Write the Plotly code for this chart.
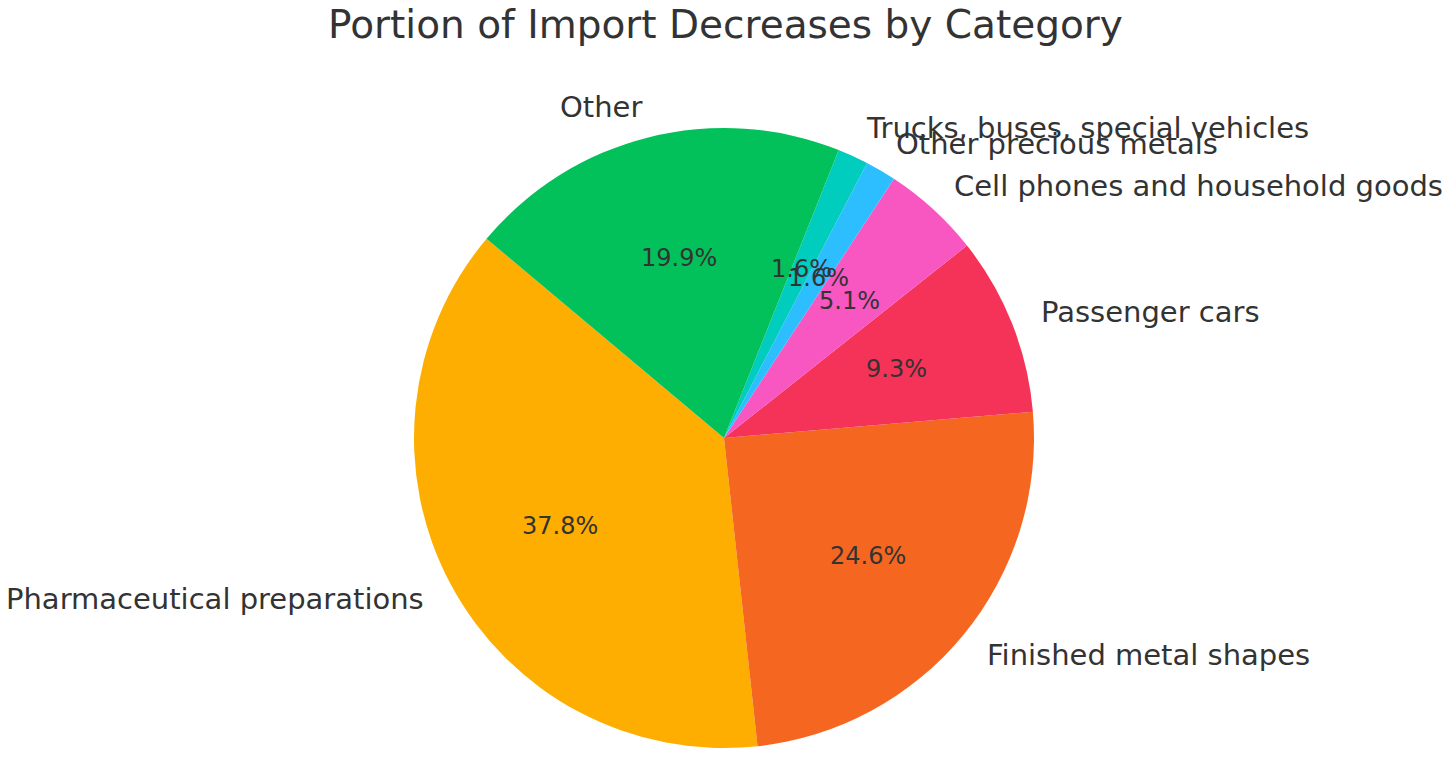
import math
import plotly.graph_objects as go

categories = ["Pharmaceutical preparations", "Finished metal shapes", "Passenger cars",
              "Cell phones and household goods", "Other precious metals",
              "Trucks, buses, special vehicles", "Other"]
values = [37.8, 24.6, 9.3, 5.1, 1.6, 1.6, 19.9]
colors = ["#FDAE00", "#F56720", "#F53257", "#F857C2", "#2DBEFF", "#00CDBE", "#02C15A"]

W, H = 1451, 783
cx, cy, R = 724, 438, 310          # pie center / radius in pixels
start_angle = 140.0                # degrees, counter-clockwise from 3 o'clock
TXT = "#333333"
FONT = "DejaVu Sans"

total = sum(values)
first_span = values[0] / total * 360.0

fig = go.Figure()
fig.add_trace(go.Pie(
    labels=categories, values=values, sort=False, direction="counterclockwise",
    rotation=90 - (start_angle + first_span),
    marker=dict(colors=colors, line=dict(width=0)),
    textinfo="none", hoverinfo="label+percent", showlegend=False,
    domain=dict(x=[(cx - R) / W, (cx + R) / W], y=[1 - (cy + R) / H, 1 - (cy - R) / H]),
))

ann = []
acc = start_angle
for lab, v in zip(categories, values):
    span = v / total * 360.0
    mid = math.radians(acc + span / 2)
    acc += span
    c, s = math.cos(mid), math.sin(mid)
    ann.append(dict(x=(cx + 0.6 * R * c) / W, y=1 - (cy - 0.6 * R * s) / H,
                    xref="paper", yref="paper", showarrow=False,
                    text=f"{v / total * 100:.1f}%", xanchor="center", yanchor="middle",
                    font=dict(family=FONT, size=24, color=TXT)))
    ann.append(dict(x=(cx + 1.1 * R * c) / W, y=1 - (cy - 1.1 * R * s) / H,
                    xref="paper", yref="paper", showarrow=False, text=lab,
                    xanchor="left" if c > 0 else "right", yanchor="middle",
                    xshift=-2 if c > 0 else 3,
                    font=dict(family=FONT, size=29, color=TXT)))

fig.update_layout(
    width=W, height=H, margin=dict(l=0, r=0, t=0, b=0),
    paper_bgcolor="white", plot_bgcolor="white",
    title=dict(text="Portion of Import Decreases by Category", x=0.5, xanchor="center",
               y=1 - 24 / H, yanchor="middle", font=dict(family=FONT, size=39, color=TXT)),
    annotations=ann,
)
fig.write_html("out.html", config={"displayModeBar": False},
               post_script="document.body.style.margin='0';")
